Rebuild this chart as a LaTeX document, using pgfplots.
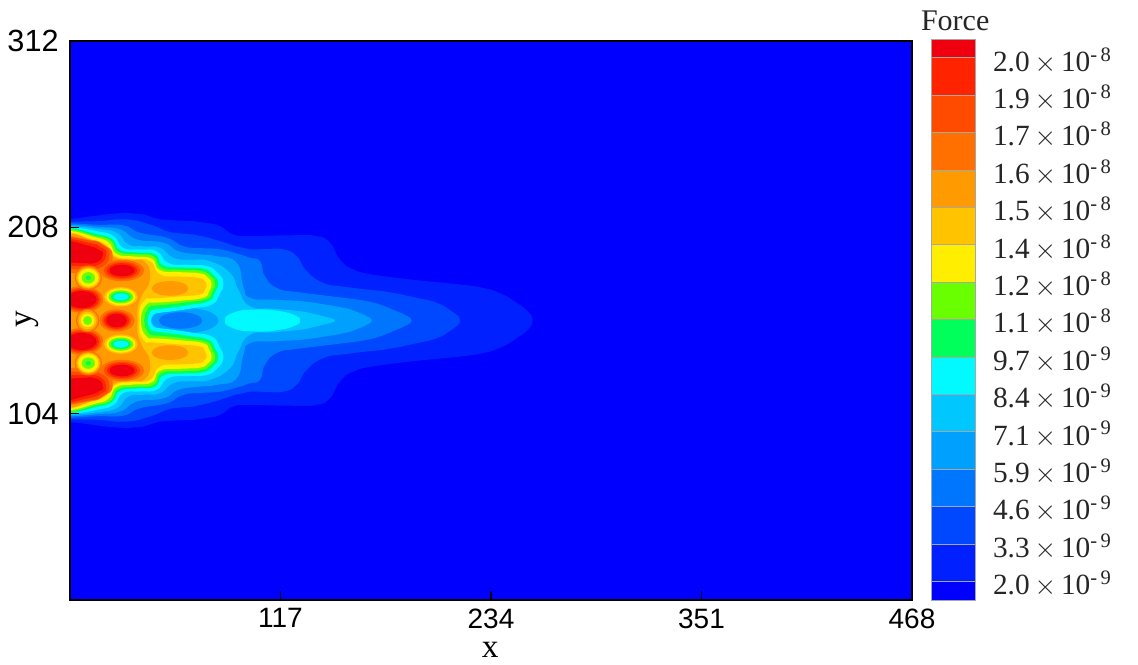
\documentclass[border=0pt]{standalone}
\usepackage{pgfplots}
\usepackage{fontspec}
\setmainfont{Liberation Serif}
\newfontfamily\arialf{Liberation Sans}
\pgfplotsset{compat=1.18}
\definecolor{c1}{RGB}{0,0,255}
\definecolor{c2}{RGB}{0,32,255}
\definecolor{c3}{RGB}{0,72,255}
\definecolor{c4}{RGB}{0,118,255}
\definecolor{c5}{RGB}{0,160,255}
\definecolor{c6}{RGB}{0,200,255}
\definecolor{c7}{RGB}{0,250,255}
\definecolor{c8}{RGB}{0,255,90}
\definecolor{c9}{RGB}{105,255,0}
\definecolor{c10}{RGB}{255,238,0}
\definecolor{c11}{RGB}{255,195,0}
\definecolor{c12}{RGB}{255,155,0}
\definecolor{c13}{RGB}{255,112,0}
\definecolor{c14}{RGB}{255,75,0}
\definecolor{c15}{RGB}{255,35,0}
\definecolor{c16}{RGB}{240,0,15}
\pgfplotsset{mirror/.style={y filter/.expression={312-y}}}
% half contour closed through the centre line, and its mirror image
\newcommand\lobe[2]{%
 \addplot[draw=none,fill=#1,smooth,tension=0.9] coordinates {#2} -- (axis cs:-15,150) -- cycle;
 \addplot[draw=none,fill=#1,smooth,tension=0.9,mirror] coordinates {#2} -- (axis cs:-15,162) -- cycle;}
\newcommand\peak[2]{%
 \addplot[draw=none,fill=#1,smooth,tension=1] coordinates {#2} -- cycle;
 \addplot[draw=none,fill=#1,smooth,tension=1,mirror] coordinates {#2} -- cycle;}
% an oval through four points
\newcommand\spot[5]{%
 \addplot[draw=none,fill=#1,smooth cycle,tension=1] coordinates {#2#3#4#5};
 \addplot[draw=none,fill=#1,smooth cycle,tension=1,mirror] coordinates {#2#3#4#5};}
\newcommand\bandc[3]{\addplot[draw=black!35,line width=0.35pt,fill=#1] coordinates {(0,#2)(1,#2)(1,#3)(0,#3)} -- cycle;}
\begin{document}
\begin{tikzpicture}
\useasboundingbox (0,0) rectangle (853.5pt,498pt);
\begin{axis}[
 at={(52.5pt,48pt)},anchor=south west,scale only axis,
 width=631.5pt,height=419.25pt,
 xmin=0,xmax=468,ymin=0,ymax=312,
 axis on top,
 axis line style={line width=2.1pt,black},
 tick style={black,line width=1.2pt},
 major tick length=7pt,
 tick align=inside,
 xtick={117,234,351,468},ytick={104,208,312},
 xticklabels={117,234,351,468},yticklabels={104,208,312},
 xtick pos=bottom,ytick pos=left,
 xticklabel style={font=\arialf\fontsize{21}{22}\selectfont,yshift=-3pt},
 yticklabel style={font=\arialf\fontsize{23}{24}\selectfont,xshift=-5pt},
 xlabel={x},ylabel={y},
 x label style={font=\fontsize{25}{26}\selectfont,at={(axis description cs:0.499,-0.09)},anchor=center},
 y label style={font=\fontsize{25}{26}\selectfont,at={(axis description cs:-0.051,0.503)},anchor=center},
 axis background/.style={fill=c1},
]
\lobe{c2}{(-9.3,212.8)(0.9,212.8)(13,214.3)(22,215.4)(31.5,216.1)(40.7,215.2)(50,212.4)(59,211.8)(68.5,211.5)(76,210.4)(83.3,208.7)(90.7,204)(100,203.1)(112,203.4)(125,203.6)(137,203.1)(144.4,199.4)(150,190.1)(157.4,184.5)(168,181.6)(178,180.2)(188.9,178.9)(202,177.6)(216,176.2)(229.6,174.2)(240,170.8)(248.1,165.9)(254,161.5)(257,156)(254,150.5)}
\lobe{c3}{(-9.3,211.1)(0.9,211.1)(8.8,211.3)(16.7,211.5)(31.5,212.4)(44.4,209.6)(53.7,205.9)(61,204.6)(68.5,204)(76,202.4)(83.3,200.3)(91.7,197.5)(100,195.7)(109,195.8)(118.5,195.7)(125.9,191.9)(131.5,183.6)(140.7,177)(151,175)(162,173.6)(174,172.4)(184,170.6)(194,168.4)(203.7,165.9)(211.5,161.5)(216.7,156)(211.5,150.5)}
\lobe{c4}{(-9.3,210.2)(0.9,210.2)(15.7,209.4)(29.6,209.1)(38.9,205)(53.7,202.2)(63,197.5)(73,196.4)(83.3,195.7)(94.4,192.9)(100,191)(105.6,189.1)(108.3,180.8)(114.8,174.2)(125,172)(137,170.5)(151,168.8)(164.8,166.8)(174,164.3)(181.5,161.2)(187,158.6)(189.8,156)(187,153.4)}
\lobe{c5}{(-9.3,209.4)(0.9,209.4)(14.8,208.3)(27.8,206.8)(37,201.3)(51.9,199.4)(60.2,194.7)(71,193)(81.5,191.9)(92.6,188.2)(96.3,175.2)(100,168.7)(113,167.6)(127.8,166.8)(140,165.2)(151.9,163.1)(158,161.4)(163,159.4)(166,157.8)(167.6,156)(166,154.2)}
\lobe{c6}{(-9.3,208.7)(0.9,208.7)(14.8,207.2)(25.9,205)(32.4,198.5)(41,197.4)(50,196.6)(57.4,191)(67,189.9)(77.8,189.1)(88.9,182.6)(93.5,173.3)(100,164)(113,162.6)(127.8,161.2)(134,160)(140.7,158.4)(145,157.2)(147.2,156)(145,154.8)}
% low centre of the jet
\spot{c5}{(45.4,156)}{(63.9,163)}{(82.4,156)}{(63.9,149)}
\spot{c4}{(49.5,156)}{(61.5,160.5)}{(73.5,156)}{(61.5,151.5)}
\addplot[draw=none,fill=c7,smooth cycle,tension=0.9] coordinates {(86.1,156)(90.7,160.3)(101.9,162.1)(116.7,161.2)(125.9,158.4)(127.8,156)(125.9,153.6)(116.7,150.8)(101.9,149.9)(90.7,151.7)};
\lobe{c7}{(-9.3,208)(0.9,208)(14.8,205.9)(24.1,203.1)(29.6,196.6)(39,195.6)(48.1,194.7)(54.6,188.2)(65,187)(75.9,186.4)(82,182.5)(85.2,177)(83,170.5)(78.7,164.9)(68,162.8)(57.4,161.2)(50,160.3)(46.3,159.4)(44.8,156)(46.3,152.6)}
\lobe{c8}{(-9.3,207.4)(0.9,207.4)(13.9,204.4)(23.1,201.6)(27.8,195.3)(37.5,193.9)(47.2,192.9)(51.9,186.7)(63,185.6)(74.1,184.9)(79.5,181.5)(82.4,177)(80.5,171.5)(76.9,166.8)(66,164.6)(55.6,163.1)(48,162.2)(44.8,161.2)(43,156)(44.8,150.8)}
\lobe{c9}{(-9.3,206.8)(0.9,206.8)(13,203.5)(22.2,200.9)(26.9,194.4)(36.5,193)(46.3,191.9)(50.9,185.4)(62,184.3)(73.1,183.6)(78,180.8)(80.6,177)(79,172)(75.9,168.1)(65,166.2)(53.7,164.9)(47,164.3)(44.1,163.6)(41.7,159.4)(41.1,156)(41.7,152.6)}
\lobe{c10}{(-9.3,205.9)(0.9,205.9)(13,202.7)(21.3,199.8)(25.9,193.2)(35.5,191.7)(45.4,190.5)(50,184.1)(61,183)(72.2,182.3)(76.5,180)(78.7,176.7)(77.3,172.3)(74.1,168.7)(63,167.2)(51.9,166.2)(46,165.9)(43,165.5)(39.8,160.3)(39.4,156)(39.8,151.7)}
\lobe{c11}{(-9.3,205)(0.9,205)(11.1,201.3)(19.4,198.5)(25,191.9)(34.5,190.3)(44.4,189.1)(50,181.7)(60.5,180.6)(71.3,179.8)(74.5,178.2)(75.9,176.1)(74.8,173)(72.2,170.5)(62,169.5)(51.9,168.7)(45,168.2)(41.7,167.7)(38.5,162.1)(38.5,156)(38.5,149.9)}
\lobe{c12}{(-9.3,204.4)(0.9,204.4)(10.2,201.6)(17.6,199)(24.1,191.6)(33,189.9)(41.7,188.6)(44.4,178.9)(39.8,169.6)(37.4,162.1)(37.4,156)(37.4,149.9)}
\spot{c12}{(45.4,173.9)}{(55.6,178)}{(65.8,173.9)}{(55.6,169.8)}
% hot spots
\peak{c13}{(-6,204.2)(10.2,201.1)(18.1,198.6)(23.7,192.3)(18.5,183.6)(5.6,182.3)(-6,183.6)}
\spot{c13}{(16.7,183.9)}{(28.9,189.9)}{(41.1,183.9)}{(28.9,177.9)}
\spot{c13}{(-5.5,167.7)}{(6.5,175.1)}{(18.5,167.7)}{(6.5,160.3)}
\spot{c13}{(16.4,156)}{(25.9,162.1)}{(35.9,156)}{(25.9,149.9)}
\peak{c14}{(-6,203.6)(9.3,200.9)(17.6,198.5)(21.9,192.3)(16.7,185.4)(5.6,184.5)(-6,185.2)}
\spot{c14}{(18.7,183.9)}{(28.9,188.9)}{(39.1,183.9)}{(28.9,178.9)}
\spot{c14}{(-4.2,167.7)}{(6.5,174.2)}{(17.2,167.7)}{(6.5,161.2)}
\spot{c14}{(17.9,156)}{(25.9,161.2)}{(33.9,156)}{(25.9,150.8)}
\peak{c15}{(-6,203)(8.3,199.8)(16.7,197.2)(20,192.3)(14.8,186.7)(5.6,186.4)(-6,187)}
\spot{c15}{(20.4,183.9)}{(28.9,188)}{(37.4,183.9)}{(28.9,179.8)}
\spot{c15}{(-3.1,167.7)}{(6.5,173.3)}{(16.1,167.7)}{(6.5,162.1)}
\spot{c15}{(19,156)}{(25.9,160.5)}{(32.8,156)}{(25.9,151.5)}
\peak{c16}{(-6,202)(7.4,198.5)(15.7,195.7)(18.1,192.3)(13.9,188.2)(5.6,188.2)(-6,188.5)}
\spot{c16}{(21.9,183.9)}{(28.9,187.1)}{(35.9,183.9)}{(28.9,180.7)}
\spot{c16}{(-1.8,167.7)}{(6.5,172.4)}{(14.8,167.7)}{(6.5,163)}
\spot{c16}{(20.3,156)}{(25.9,159.7)}{(31.5,156)}{(25.9,152.3)}
% cool spots
\spot{c13}{(2.6,179.8)}{(10.2,186.7)}{(17.8,179.8)}{(10.2,172.9)}
\spot{c12}{(3.3,179.8)}{(10.2,185.9)}{(17.1,179.8)}{(10.2,173.7)}
\spot{c11}{(3.9,179.8)}{(10.2,185.4)}{(16.5,179.8)}{(10.2,174.2)}
\spot{c10}{(4.6,179.8)}{(10.2,184.8)}{(15.8,179.8)}{(10.2,174.8)}
\spot{c9}{(6.5,179.8)}{(10.2,183)}{(13.9,179.8)}{(10.2,176.6)}
\spot{c8}{(8.7,179.8)}{(10.2,181)}{(11.7,179.8)}{(10.2,178.6)}
\spot{c13}{(3.3,156)}{(9.8,162.5)}{(16.3,156)}{(9.8,149.5)}
\spot{c12}{(4.1,156)}{(9.8,161.8)}{(15.5,156)}{(9.8,150.2)}
\spot{c11}{(5,156)}{(9.8,160.8)}{(14.6,156)}{(9.8,151.2)}
\spot{c10}{(6.1,156)}{(9.8,159.7)}{(13.5,156)}{(9.8,152.3)}
\spot{c9}{(7.4,156)}{(9.8,158.4)}{(12.2,156)}{(9.8,153.6)}
\spot{c12}{(17.9,169.2)}{(28.3,175.3)}{(38.7,169.2)}{(28.3,163.1)}
\spot{c11}{(19,169.2)}{(28.3,174.6)}{(37.6,169.2)}{(28.3,163.8)}
\spot{c10}{(20.2,169.2)}{(28.3,173.9)}{(36.4,169.2)}{(28.3,164.5)}
\spot{c9}{(21.4,169.2)}{(28.3,172.9)}{(35.2,169.2)}{(28.3,165.5)}
\spot{c8}{(22.7,169.2)}{(28.3,172)}{(33.9,169.2)}{(28.3,166.4)}
\spot{c7}{(24.2,169.2)}{(28.3,171.1)}{(32.4,169.2)}{(28.3,167.3)}
\end{axis}
\begin{axis}[
 at={(698.25pt,48pt)},anchor=south west,scale only axis,
 width=33pt,height=420.75pt,
 xmin=0,xmax=1,ymin=0,ymax=15,
 xtick=\empty,
 axis line style={draw=none},
 ytick={0.5,1.5,...,14.5},
 yticklabels={%
 2.0\,$\times$\,10\textsuperscript{-\,9},3.3\,$\times$\,10\textsuperscript{-\,9},4.6\,$\times$\,10\textsuperscript{-\,9},5.9\,$\times$\,10\textsuperscript{-\,9},7.1\,$\times$\,10\textsuperscript{-\,9},8.4\,$\times$\,10\textsuperscript{-\,9},9.7\,$\times$\,10\textsuperscript{-\,9},1.1\,$\times$\,10\textsuperscript{-\,8},1.2\,$\times$\,10\textsuperscript{-\,8},1.4\,$\times$\,10\textsuperscript{-\,8},1.5\,$\times$\,10\textsuperscript{-\,8},1.6\,$\times$\,10\textsuperscript{-\,8},1.7\,$\times$\,10\textsuperscript{-\,8},1.9\,$\times$\,10\textsuperscript{-\,8},2.0\,$\times$\,10\textsuperscript{-\,8}},
 ytick pos=right,yticklabel pos=right,
 major tick length=0pt,
 yticklabel style={font=\fontsize{22}{23}\selectfont,text=black!85,anchor=west,xshift=10pt,yshift=-2pt},
 clip=false,
]
\bandc{c1}{0}{0.5}
\bandc{c2}{0.5}{1.5}
\bandc{c3}{1.5}{2.5}
\bandc{c4}{2.5}{3.5}
\bandc{c5}{3.5}{4.5}
\bandc{c6}{4.5}{5.5}
\bandc{c7}{5.5}{6.5}
\bandc{c8}{6.5}{7.5}
\bandc{c9}{7.5}{8.5}
\bandc{c10}{8.5}{9.5}
\bandc{c11}{9.5}{10.5}
\bandc{c12}{10.5}{11.5}
\bandc{c13}{11.5}{12.5}
\bandc{c14}{12.5}{13.5}
\bandc{c15}{13.5}{14.5}
\bandc{c16}{14.5}{15}
\node[font=\fontsize{22.5}{23}\selectfont,text=black!85] at (axis description cs:0.55,1.032) {Force};
\end{axis}
\end{tikzpicture}
\end{document}
